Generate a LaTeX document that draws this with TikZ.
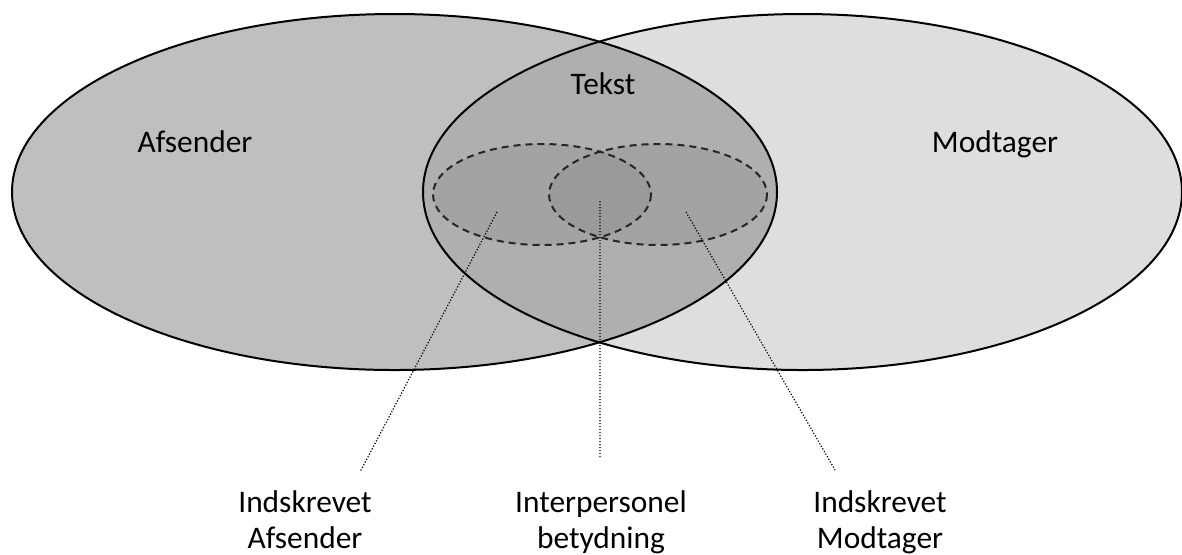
\documentclass[tikz,border=0pt]{standalone}
\usepackage{fontspec}
\setmainfont{Carlito}
\usepackage{xcolor}
\definecolor{sendgray}{RGB}{191,191,191}
\definecolor{recvgray}{RGB}{222,222,222}
\definecolor{textgray}{RGB}{175,175,175}
\definecolor{inngray}{RGB}{163,163,163}
\definecolor{bothgray}{RGB}{154,154,154}

\begin{document}
\begin{tikzpicture}[x=0.5pt,y=-0.5pt,
  outline/.style={draw=black,line width=1pt},
  innring/.style={draw=black!85,line width=1pt,dash pattern=on 3.5pt off 2.5pt},
  pointer/.style={draw=black,line width=0.6pt,dash pattern=on 0.6pt off 0.9pt},
  txt/.style={font=\fontsize{15.7}{18}\selectfont,inner sep=0pt,align=center}]

  \useasboundingbox (0,0) rectangle (1182,554);

  % the two big ellipses and the text region between them
  \fill[recvgray] (802.5,192) ellipse [x radius=379.5,y radius=178];
  \fill[sendgray] (394.5,192) ellipse [x radius=382.5,y radius=178];
  \begin{scope}
    \clip (394.5,192) ellipse [x radius=382.5,y radius=178];
    \fill[textgray] (802.5,192) ellipse [x radius=379.5,y radius=178];
  \end{scope}

  % inscribed sender / receiver
  \fill[inngray] (542,194.5) ellipse [x radius=109,y radius=50.5];
  \fill[inngray] (658,194.5) ellipse [x radius=109,y radius=50.5];
  \begin{scope}
    \clip (542,194.5) ellipse [x radius=109,y radius=50.5];
    \fill[bothgray] (658,194.5) ellipse [x radius=109,y radius=50.5];
  \end{scope}

  \path[outline] (802.5,192) ellipse [x radius=379.5,y radius=178];
  \path[outline] (394.5,192) ellipse [x radius=382.5,y radius=178];
  \path[innring] (542,194.5) ellipse [x radius=109,y radius=50.5];
  \path[innring] (658,194.5) ellipse [x radius=109,y radius=50.5];

  \node[txt,anchor=base] (afs) at (195,152) {Afsender};
  \node[txt,anchor=base] (mod) at (995,152) {Modtager};
  \node[txt,anchor=base] (tek) at (603,94) {Tekst};

  \coordinate (ia) at (497,212);
  \coordinate (ib) at (600,201);
  \coordinate (im) at (686,212);
  \coordinate (ea) at (360,472);
  \coordinate (eb) at (600,458);
  \coordinate (em) at (835,470);

  \node[txt,anchor=north] (lblA) at (305,490) {Indskrevet\\Afsender};
  \node[txt,anchor=north] (lblB) at (601,490) {Interpersonel\\betydning};
  \node[txt,anchor=north] (lblM) at (880,490) {Indskrevet\\Modtager};

  \path[pointer] (ia) -- (ea)
    (ib) -- (eb)
    (im) -- (em);

\end{tikzpicture}
\end{document}
